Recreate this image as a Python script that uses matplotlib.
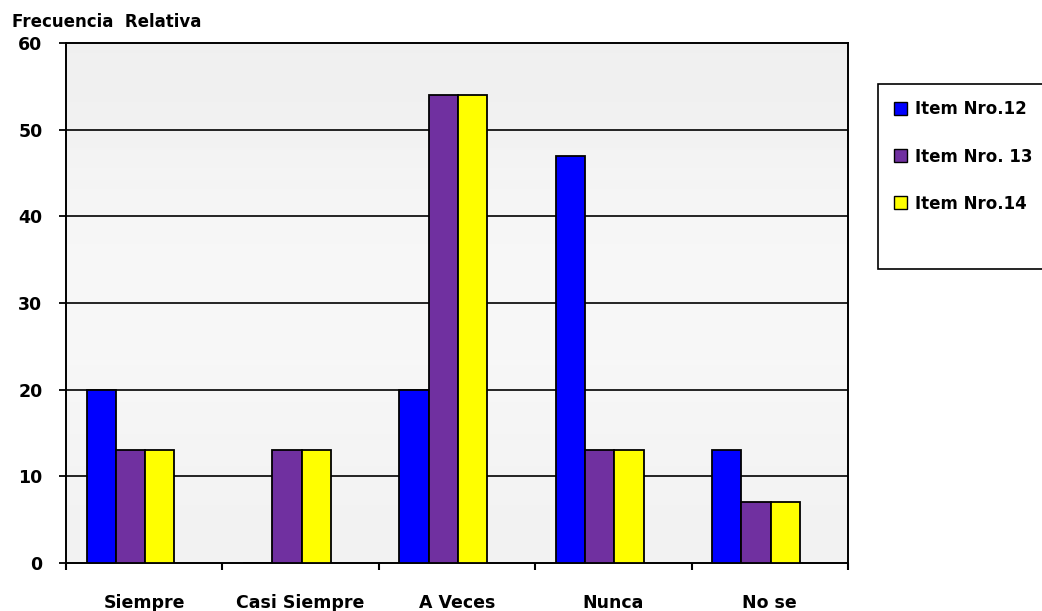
import matplotlib
matplotlib.use("Agg")
import matplotlib.pyplot as plt
import numpy as np
from matplotlib.patches import Rectangle

categories = ["Siempre", "Casi Siempre", "A Veces", "Nunca", "No se"]
series_names = ["Item Nro.12", "Item Nro. 13", "Item Nro.14"]
item12 = [20, 0, 20, 47, 13]
item13 = [13, 13, 54, 13, 7]
item14 = [13, 13, 54, 13, 7]
colors = ["#0000ff", "#7030a0", "#ffff00"]
yticks = [0, 10, 20, 30, 40, 50, 60]

fig = plt.figure(figsize=(10.42, 6.11), dpi=100)
W, H = 1042, 611
x0, x1, y0, y1 = 66, 848, 43, 563
ax = fig.add_axes([x0 / W, 1 - y1 / H, (x1 - x0) / W, (y1 - y0) / H])

# gradient background
grad = np.array([0.94, 0.965, 0.975, 0.965, 0.95]).reshape(-1, 1)
ax.imshow(np.dstack([grad, grad, grad]), extent=[-0.5, 4.5, 0, 60], aspect="auto",
          interpolation="bicubic", zorder=0, origin="upper")

n = len(categories)
x = np.arange(n)
w = 0.187
data = [item12, item13, item14]
for i, (vals, c) in enumerate(zip(data, colors)):
    ax.bar(x + (i - 1.5) * w + 0.006, vals, width=w, color=c, edgecolor="black",
           linewidth=1.3, align="center", zorder=3)

ax.set_xlim(-0.5, n - 0.5)
ax.set_ylim(0, 60)
for yv in yticks[1:-1]:
    ax.axhline(yv, color="black", lw=1.2, zorder=1)

ax.set_yticks(yticks)
ax.set_yticklabels([str(v) for v in yticks], fontsize=12.5, fontweight="heavy")
ax.set_xticks(np.arange(n + 1) - 0.5)
ax.set_xticklabels([])
ax.set_xticks(x, minor=True)
ax.set_xticklabels(categories, minor=True, fontsize=12.5, fontweight="heavy")
ax.tick_params(axis="x", which="minor", length=0, pad=22)
ax.tick_params(axis="x", which="major", length=5, width=1.5, direction="out")
ax.tick_params(axis="y", length=5, width=1.3, direction="out", pad=12)
for s in ax.spines.values():
    s.set_linewidth(1.4)
    s.set_color("black")

fig.text(12 / W, 1 - 22 / H, "Frecuencia  Relativa", fontsize=12, fontweight="bold",
         va="center", ha="left")

# legend frame extending to the right edge
frame = Rectangle((878 / W, 1 - 269 / H), (1050 - 878) / W, (269 - 84) / H,
                  transform=fig.transFigure, facecolor="white", edgecolor="black",
                  lw=1.2, zorder=1)
fig.patches.append(frame)
handles = [Rectangle((0, 0), 1, 1, facecolor=c, edgecolor="black", lw=1) for c in colors]
leg = fig.legend(handles, series_names, loc="upper left",
                 bbox_to_anchor=(886 / W, 1 - 92 / H), frameon=False,
                 prop={"weight": "bold", "size": 12}, handlelength=0.75, handleheight=0.8,
                 labelspacing=1.75, borderpad=0.5, handletextpad=0.5, borderaxespad=0)
leg.set_zorder(2)

fig.savefig("out.png", dpi=100)
